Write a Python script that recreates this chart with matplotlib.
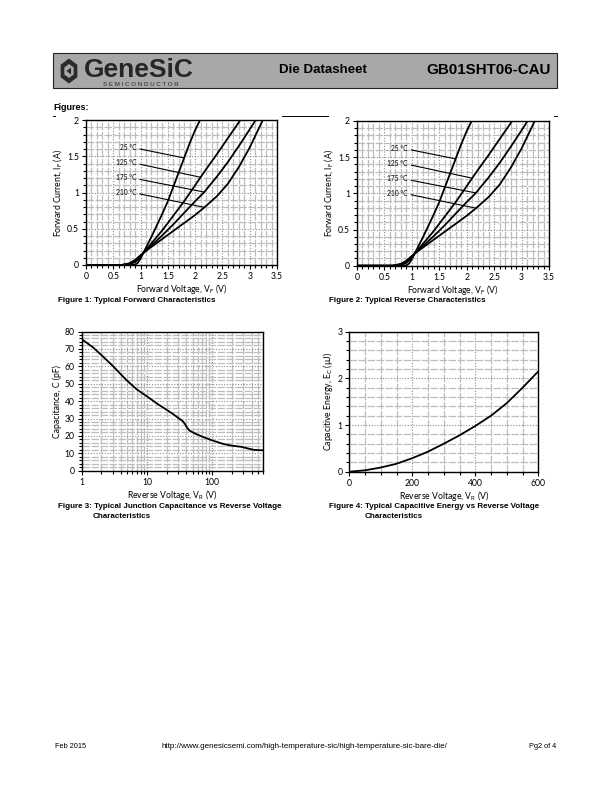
import matplotlib
matplotlib.use("Agg")
import matplotlib.pyplot as plt
import matplotlib.ticker as mticker
from matplotlib.patches import Rectangle, RegularPolygon
from matplotlib.lines import Line2D

# ---- data ----
vf_25 = [0, 0.8, 0.9, 0.95, 1.0, 1.05, 1.1, 1.2, 1.3, 1.4, 1.5, 1.6, 1.7, 1.8, 1.9, 2.0, 2.09]
if_25 = [0, 0, 0.005, 0.03, 0.09, 0.166, 0.24, 0.39, 0.55, 0.71, 0.88, 1.08, 1.28, 1.48, 1.68, 1.86, 2.0]
vf_125 = [0, 0.7, 0.8, 0.9, 1.0, 1.05, 1.2, 1.4, 1.6, 1.8, 2.0, 2.2, 2.4, 2.6, 2.83]
if_125 = [0, 0, 0.01, 0.04, 0.11, 0.166, 0.3, 0.48, 0.68, 0.88, 1.1, 1.32, 1.53, 1.75, 2.0]
vf_175 = [0, 0.65, 0.8, 0.9, 1.0, 1.05, 1.2, 1.4, 1.6, 1.8, 2.0, 2.16, 2.4, 2.6, 2.8, 3.0, 3.11]
if_175 = [0, 0, 0.02, 0.06, 0.125, 0.166, 0.27, 0.41, 0.56, 0.72, 0.88, 1.0, 1.22, 1.42, 1.64, 1.87, 2.0]
vf_210 = [0, 0.65, 0.8, 0.9, 1.0, 1.05, 1.2, 1.4, 1.6, 1.8, 2.0, 2.17, 2.4, 2.6, 2.8, 3.0, 3.24]
if_210 = [0, 0, 0.025, 0.07, 0.135, 0.166, 0.25, 0.36, 0.47, 0.58, 0.69, 0.795, 0.95, 1.12, 1.35, 1.62, 2.0]

temp_labels = ["25 °C", "125 °C", "175 °C", "210 °C"]
label_start = [(0.99, 1.60), (0.99, 1.39), (0.99, 1.18), (0.99, 0.98)]
label_end = [(1.80, 1.476), (2.10, 1.21), (2.16, 1.007), (2.17, 0.795)]

vr_c = [1, 1.5, 2, 3, 4, 5, 7, 10, 15, 20, 25, 30, 35, 38, 41, 45, 55, 70, 100,
        150, 200, 280, 350, 430, 600]
cap = [75.6, 70.8, 66.5, 60.2, 55.3, 51.6, 46.7, 42.7, 38.0, 35.0, 32.6, 30.4, 28.6,
       27.0, 24.8, 23.0, 21.3, 19.6, 17.4, 15.3, 14.4, 13.7, 12.8, 12.0, 11.7]

vr_e = [0, 50, 100, 150, 200, 250, 300, 350, 400, 450, 500, 550, 600]
energy = [0, 0.03, 0.09, 0.17, 0.29, 0.43, 0.6, 0.78, 0.98, 1.2, 1.47, 1.8, 2.15]

W, H = 612, 792
fig = plt.figure(figsize=(W / 100, H / 100), dpi=100)

def P(x, y):
    return x / W, 1 - y / H

def rect(l, t, r, b):
    return [l / W, 1 - b / H, (r - l) / W, (b - t) / H]

axfont = "Lato"
capfont = "Liberation Sans"

def style(ax, xmaj, xmin, ymaj, ymin, logx=False):
    if logx:
        ax.set_xscale("log")
        ax.xaxis.set_major_locator(mticker.LogLocator(base=10))
        ax.xaxis.set_minor_locator(mticker.LogLocator(base=10, subs=range(2, 10)))
        ax.xaxis.set_major_formatter(mticker.FuncFormatter(lambda v, p: "%g" % v))
        ax.xaxis.set_minor_formatter(mticker.NullFormatter())
    else:
        ax.xaxis.set_major_locator(mticker.MultipleLocator(xmaj))
        ax.xaxis.set_minor_locator(mticker.MultipleLocator(xmin))
        ax.xaxis.set_major_formatter(mticker.FuncFormatter(lambda v, p: "%g" % v))
    ax.yaxis.set_major_locator(mticker.MultipleLocator(ymaj))
    ax.yaxis.set_minor_locator(mticker.MultipleLocator(ymin))
    ax.yaxis.set_major_formatter(mticker.FuncFormatter(lambda v, p: "%g" % v))
    ax.grid(which="minor", color="#bdbdbd", lw=0.9, ls=(0, (6, 1.2)))
    ax.grid(which="major", color="#8c8c8c", lw=0.8, ls=(0, (1, 1.5)))
    ax.set_axisbelow(True)
    ax.tick_params(which="both", direction="out", top=False, right=False,
                   labelsize=6.2, pad=2, width=0.8, colors="black")
    ax.tick_params(which="major", length=3)
    ax.tick_params(which="minor", length=2)
    for lab in ax.get_xticklabels() + ax.get_yticklabels():
        lab.set_fontfamily(axfont)
    for s in ax.spines.values():
        s.set_linewidth(1.0)

def forward_plot(ax):
    for v, i in [(vf_25, if_25), (vf_125, if_125), (vf_175, if_175), (vf_210, if_210)]:
        ax.plot(v, i, color="black", lw=1.3, solid_capstyle="round")
    for lab, (x0, y0), (x1, y1) in zip(temp_labels, label_start, label_end):
        ax.plot([x0, x1], [y0, y1], color="black", lw=0.8)
        ax.text(x0 - 0.07, y0 + 0.02, lab, fontsize=4.8, family=axfont,
                ha="right", va="center")
    ax.set_xlim(0, 3.5)
    ax.set_ylim(0, 2)
    style(ax, 0.5, 0.1, 0.5, 0.1)
    ax.set_xlabel(r"Forward Voltage, V$_\mathregular{F}$ (V)", fontsize=6.2,
                  family=axfont, labelpad=1)
    ax.set_ylabel(r"Forward Current, I$_\mathregular{F}$ (A)", fontsize=6.2,
                  family=axfont, labelpad=2)

ax1 = fig.add_axes(rect(86, 120, 277, 265))
forward_plot(ax1)
ax2 = fig.add_axes(rect(357, 121, 549, 265.7))
forward_plot(ax2)

ax3 = fig.add_axes(rect(81.7, 331.5, 263, 470.7))
ax3.plot(vr_c, cap, color="black", lw=1.3)
ax3.set_xlim(1, 600)
ax3.set_ylim(0, 80)
style(ax3, None, None, 10, 2, logx=True)
ax3.set_xlabel(r"Reverse Voltage, V$_\mathregular{R}$ (V)", fontsize=6.2,
               family=axfont, labelpad=1)
ax3.set_ylabel("Capacitance, C (pF)", fontsize=6.2, family=axfont, labelpad=2)

ax4 = fig.add_axes(rect(349.3, 331.7, 538.3, 471.7))
ax4.plot(vr_e, energy, color="black", lw=1.3)
ax4.set_xlim(0, 600)
ax4.set_ylim(0, 3)
style(ax4, 200, 50, 1, 0.2)
ax4.set_xlabel(r"Reverse Voltage, V$_\mathregular{R}$ (V)", fontsize=6.2,
               family=axfont, labelpad=1)
ax4.set_ylabel(r"Capacitive Energy, E$_\mathregular{C}$ (µJ)", fontsize=6.2,
               family=axfont, labelpad=2)

# ---- page furniture ----
fig.patches.append(Rectangle(P(53, 88), 504 / W, 35 / H, transform=fig.transFigure,
                             facecolor="#a8a8a8", edgecolor="#222222", lw=0.8))
fig.patches.append(RegularPolygon(P(69, 71), numVertices=6, radius=12.5 / H,
                                  orientation=0, transform=fig.transFigure,
                                  facecolor="#2b2b2b", edgecolor="none"))
fig.patches.append(RegularPolygon(P(69, 71), numVertices=6, radius=7 / H,
                                  orientation=0, transform=fig.transFigure,
                                  facecolor="#a8a8a8", edgecolor="none"))
fig.patches.append(RegularPolygon(P(69.5, 71), numVertices=3, radius=4 / H,
                                  orientation=-0.5236, transform=fig.transFigure,
                                  facecolor="#2b2b2b", edgecolor="none"))
fig.text(*P(84, 70), "GeneSiC", fontsize=19, fontweight="bold", family=capfont,
         color="#262626", va="center", ha="left")
fig.text(*P(103, 84), "S E M I C O N D U C T O R", fontsize=4.4, family=capfont,
         color="#262626", va="center", ha="left")
fig.text(*P(323, 70), "Die Datasheet", fontsize=9.6, fontweight="bold",
         family=capfont, ha="center", va="center")
fig.text(*P(551, 70), "GB01SHT06-CAU", fontsize=10.9, fontweight="bold",
         family=capfont, ha="right", va="center")

fig.text(*P(53, 108), "Figures:", fontsize=6.5, fontweight="bold", family=capfont,
         ha="left", va="center")
for x0, x1 in [(53, 55), (282, 328), (554, 557)]:
    fig.add_artist(Line2D([x0 / W, x1 / W], [1 - 116 / H, 1 - 116 / H],
                          color="black", lw=0.7, transform=fig.transFigure))

captions = [
    (58, 301, "Figure 1: Typical Forward Characteristics"),
    (329, 301, "Figure 2: Typical Reverse Characteristics"),
    (58, 507, "Figure 3: Typical Junction Capacitance vs Reverse Voltage"),
    (93, 517, "Characteristics"),
    (329, 507, "Figure 4: Typical Capacitive Energy vs Reverse Voltage"),
    (365, 517, "Characteristics"),
]
for x, y, t in captions:
    fig.text(*P(x, y), t, fontsize=5.8, fontweight="bold", family=capfont,
             ha="left", va="center")

fig.text(*P(55, 746), "Feb 2015", fontsize=5.3, family=capfont, ha="left", va="center")
fig.text(*P(161, 746), "http://www.genesicsemi.com/high-temperature-sic/high-temperature-sic-bare-die/",
         fontsize=5.75, family=capfont, ha="left", va="center")
fig.text(*P(556, 746), "Pg2 of 4", fontsize=5.3, family=capfont, ha="right", va="center")

fig.savefig("out.png", dpi=100)
